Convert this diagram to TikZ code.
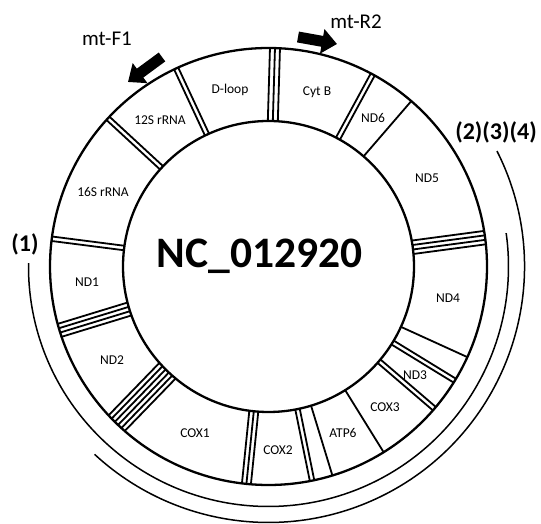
\documentclass[tikz,border=0pt]{standalone}
\usepackage{fontspec}
\setmainfont{Carlito}
\usetikzlibrary{arrows.meta}

\begin{document}
\begin{tikzpicture}[x=1pt, y=1pt,
  gene/.style={font=\fontsize{13.5}{16}\selectfont},
  primer/.style={font=\fontsize{21}{24}\selectfont},
  amp/.style={font=\bfseries\fontsize{24}{28}\selectfont}]
\useasboundingbox (0,0) rectangle (541,524);
% ring
\begin{scope}[shift={(268.5,257.5)}]
\draw [line width=2.3] (0,0) circle (218.5pt);
\draw [line width=2.3] (0,0) circle (145.5pt);
% tRNA dividers
\draw [line width=1.8, rotate=88.3] (145.5,-5.000000) -- (218.5,-5.000000);
\draw [line width=1.8, rotate=88.3] (145.5,0.000000) -- (218.5,0.000000);
\draw [line width=1.8, rotate=88.3] (145.5,5.000000) -- (218.5,5.000000);
\draw [line width=1.8, rotate=61.5] (145.5,-2.250000) -- (218.5,-2.250000);
\draw [line width=1.8, rotate=61.5] (145.5,2.250000) -- (218.5,2.250000);
\draw [line width=1.8, rotate=49.2] (145.5,0.000000) -- (218.5,0.000000);
\draw [line width=1.8, rotate=7.6] (145.5,-6.750000) -- (218.5,-6.750000);
\draw [line width=1.8, rotate=7.6] (145.5,-2.250000) -- (218.5,-2.250000);
\draw [line width=1.8, rotate=7.6] (145.5,2.250000) -- (218.5,2.250000);
\draw [line width=1.8, rotate=7.6] (145.5,6.750000) -- (218.5,6.750000);
\draw [line width=1.8, rotate=-24.5] (145.5,0.000000) -- (218.5,0.000000);
\draw [line width=1.8, rotate=-31.5] (145.5,-2.250000) -- (218.5,-2.250000);
\draw [line width=1.8, rotate=-31.5] (145.5,2.250000) -- (218.5,2.250000);
\draw [line width=1.8, rotate=-40.6] (145.5,-2.250000) -- (218.5,-2.250000);
\draw [line width=1.8, rotate=-40.6] (145.5,2.250000) -- (218.5,2.250000);
\draw [line width=1.8, rotate=-58.2] (145.5,0.000000) -- (218.5,0.000000);
\draw [line width=1.8, rotate=-73.0] (145.5,0.000000) -- (218.5,0.000000);
\draw [line width=1.8, rotate=-78.5] (145.5,-2.250000) -- (218.5,-2.250000);
\draw [line width=1.8, rotate=-78.5] (145.5,2.250000) -- (218.5,2.250000);
\draw [line width=1.8, rotate=-95.8] (145.5,-4.500000) -- (218.5,-4.500000);
\draw [line width=1.8, rotate=-95.8] (145.5,0.000000) -- (218.5,0.000000);
\draw [line width=1.8, rotate=-95.8] (145.5,4.500000) -- (218.5,4.500000);
\draw [line width=1.8, rotate=-134.1] (145.5,-11.250000) -- (218.5,-11.250000);
\draw [line width=1.8, rotate=-134.1] (145.5,-6.750000) -- (218.5,-6.750000);
\draw [line width=1.8, rotate=-134.1] (145.5,-2.250000) -- (218.5,-2.250000);
\draw [line width=1.8, rotate=-134.1] (145.5,2.250000) -- (218.5,2.250000);
\draw [line width=1.8, rotate=-134.1] (145.5,6.750000) -- (218.5,6.750000);
\draw [line width=1.8, rotate=-134.1] (145.5,11.250000) -- (218.5,11.250000);
\draw [line width=1.8, rotate=-163.0] (145.5,-6.750000) -- (218.5,-6.750000);
\draw [line width=1.8, rotate=-163.0] (145.5,-2.250000) -- (218.5,-2.250000);
\draw [line width=1.8, rotate=-163.0] (145.5,2.250000) -- (218.5,2.250000);
\draw [line width=1.8, rotate=-163.0] (145.5,6.750000) -- (218.5,6.750000);
\draw [line width=1.8, rotate=172.7] (145.5,-2.250000) -- (218.5,-2.250000);
\draw [line width=1.8, rotate=172.7] (145.5,2.250000) -- (218.5,2.250000);
\draw [line width=1.8, rotate=137.3] (145.5,-2.250000) -- (218.5,-2.250000);
\draw [line width=1.8, rotate=137.3] (145.5,2.250000) -- (218.5,2.250000);
\draw [line width=1.8, rotate=115.0] (145.5,-2.250000) -- (218.5,-2.250000);
\draw [line width=1.8, rotate=115.0] (145.5,2.250000) -- (218.5,2.250000);
% amplicons
\draw [line width=1.5] (179.2:240) arc [start angle=179.2, end angle=368.0, radius=240];
\draw [line width=1.5] (26.8:256) arc [start angle=26.8, end angle=-132.8, radius=256];
\end{scope}
% gene labels
\node (dloop) at (230.000000,434.000000) [gene] {D-loop};
\node (cytb) at (317.000000,432.000000) [gene] {Cyt B};
\node (nd6) at (373.000000,406.000000) [gene] {ND6};
\node (nd5) at (427.000000,346.000000) [gene] {ND5};
\node (nd4) at (448.000000,226.000000) [gene] {ND4};
\node (nd3) at (415.000000,149.000000) [gene] {ND3};
\node (cox3) at (385.000000,117.000000) [gene] {COX3};
\node (atp6) at (343.000000,91.000000) [gene] {ATP6};
\node (cox2) at (278.000000,74.000000) [gene] {COX2};
\node (cox1) at (195.000000,91.000000) [gene] {COX1};
\node (nd2) at (112.000000,164.000000) [gene] {ND2};
\node (nd1) at (87.000000,242.000000) [gene] {ND1};
\node (rrna16) at (103.000000,332.000000) [gene] {16S rRNA};
\node (rrna12) at (160.000000,404.000000) [gene] {12S rRNA};
\node (genome) at (259.500000,268.000000) [font=\bfseries\fontsize{43.5}{48}\selectfont] {NC\_012920};
% primers
\node (mtf1) at (107.000000,485.000000) [primer] {mt-F1};
\node (mtr2) at (356.000000,502.000000) [primer] {mt-R2};
\coordinate (f1tail) at (162.000000,467.000000);
\coordinate (f1tip) at (128.000000,442.000000);
\coordinate (r2tail) at (298.000000,487.000000);
\coordinate (r2tip) at (337.000000,480.000000);
\draw [line width=11, -{Triangle[length=15pt, width=24pt]}] (f1tail) -- (f1tip);
\draw [line width=11, -{Triangle[length=15pt, width=24pt]}] (r2tail) -- (r2tip);
\node (amp1) at (25.000000,280.000000) [amp] {(1)};
\node (amp234) at (496.000000,392.000000) [amp] {(2)(3)(4)};
\end{tikzpicture}
\end{document}
